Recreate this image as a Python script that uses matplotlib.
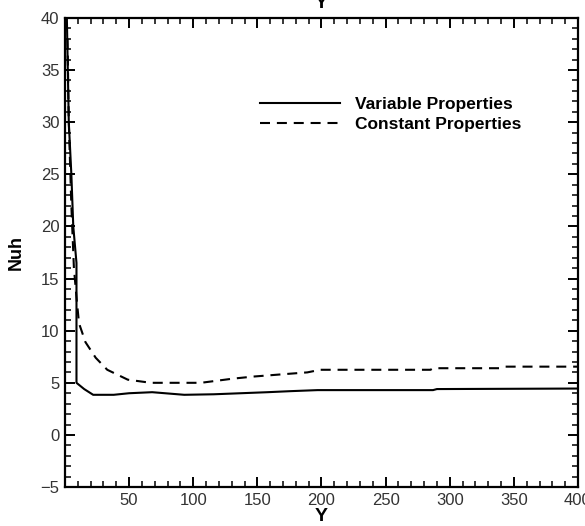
import numpy as np
import matplotlib
matplotlib.use("Agg")
import matplotlib.pyplot as plt
from matplotlib.ticker import MultipleLocator

plt.rcParams['font.family'] = ['Liberation Sans', 'DejaVu Sans']

# Nusselt number along Y
y_var = [1.5, 3, 5, 6.5, 9, 9, 15, 22, 38, 50, 68, 93, 116, 137, 158, 176, 197, 287, 290, 400]
nuh_var = [40, 30, 25, 20, 16.5, 5.0, 4.4, 3.85, 3.85, 4.0, 4.1, 3.85, 3.9, 4.0, 4.1, 4.2, 4.3, 4.3, 4.4, 4.45]

y_const = [2, 3, 5, 7, 9.3, 11, 16, 24, 33, 49, 67, 106, 131, 147, 173, 189, 199, 285, 287, 339, 343, 400]
nuh_const = [38, 30, 22, 16, 12.8, 10.7, 8.9, 7.4, 6.25, 5.3, 5.0, 5.0, 5.4, 5.6, 5.85, 6.0, 6.25, 6.25, 6.4, 6.4, 6.55, 6.55]

x_ticks = [50, 100, 150, 200, 250, 300, 350, 400]
y_ticks = [-5, 0, 5, 10, 15, 20, 25, 30, 35, 40]

fig = plt.figure(figsize=(5.85, 5.26), dpi=100)
ax = fig.add_axes([0.111, 0.074, 0.877, 0.892])

ax.plot(y_var, nuh_var, color='black', lw=1.5, label='Variable Properties')
ax.plot(y_const, nuh_const, color='black', lw=1.5, dashes=(4.8, 3.3),
        label='Constant Properties')

ax.set_xlim(0, 400)
ax.set_ylim(-5, 40)
ax.set_xticks(x_ticks)
ax.set_yticks(y_ticks)
ax.xaxis.set_minor_locator(MultipleLocator(10))
ax.yaxis.set_minor_locator(MultipleLocator(1))
ax.tick_params(which='both', direction='in', top=True, right=True,
               labelsize=12, labelcolor='#333333', pad=4)
ax.tick_params(which='major', length=7, width=1.4)
ax.tick_params(which='minor', length=4, width=1.1)
for s in ax.spines.values():
    s.set_linewidth(1.6)

ax.set_xlabel('Y', fontsize=14, fontweight='bold', labelpad=0)
ax.set_ylabel('Nuh', fontsize=13, fontweight='bold', labelpad=11)
ax.set_title('Y', fontsize=14, fontweight='bold', pad=7)

ax.legend(loc='upper left', bbox_to_anchor=(0.38, 0.832), frameon=False,
          prop={'size': 12.5, 'weight': 'bold'}, handlelength=4.6,
          handletextpad=0.86, labelspacing=0.3, borderpad=0, borderaxespad=0)

fig.savefig('out.png', dpi=100)
